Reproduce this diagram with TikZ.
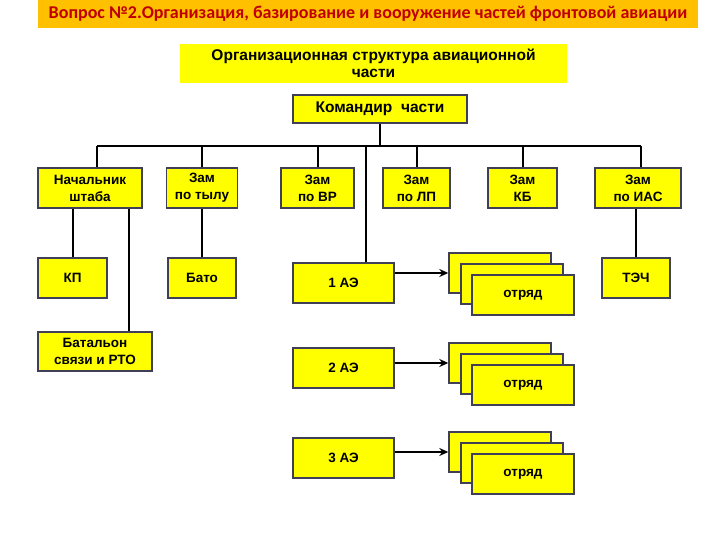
\documentclass[tikz,border=0pt]{standalone}
\usepackage{fontspec}
\usepackage{xcolor}
\usetikzlibrary{arrows.meta,positioning}
\setmainfont{Liberation Sans}
\newfontfamily\titlefont{Carlito}
\definecolor{orgGold}{HTML}{FFC000}
\definecolor{orgRed}{HTML}{C00000}
\definecolor{orgYellow}{HTML}{FFFF00}
\definecolor{orgEdge}{HTML}{3F4058}

\begin{document}
\begin{tikzpicture}[x=1pt,y=-1pt,
    every node/.style={font=\bfseries\fontsize{13.5}{17}\selectfont, align=center, inner sep=0pt},
    unit/.style={draw=orgEdge, line width=1.4pt, fill=orgYellow, minimum height=40pt},
    conn/.style={line width=2pt, black},
    feed/.style={line width=2pt, black, -{Stealth[length=9pt,width=8pt]}}]
    \useasboundingbox (0,0) rectangle (720,540);
    % header
    \node[fill=orgGold, minimum width=660pt, minimum height=28pt, text=orgRed,
          font=\titlefont\bfseries\fontsize{18}{20}\selectfont] (head) at (368,14)
          {Вопрос №2.Организация, базирование и вооружение частей фронтовой авиации};
    \node[fill=orgYellow, minimum width=387pt, minimum height=39pt,
          font=\bfseries\fontsize{15.5}{17}\selectfont] (sub) at (373.5,63.5)
          {Организационная структура авиационной\\части};
    \node[unit, minimum width=174pt, minimum height=28pt,
          font=\bfseries\fontsize{15.5}{17}\selectfont] (cmd) at (380,109) {Командир\ \ части};
    % deputies
    \node[unit, minimum width=104pt] (nsh) at (90,188) {Начальник\\штаба};
    \node[unit, minimum width=71pt] (zt) at (202,188) {Зам\\по тылу};
    \node[unit, minimum width=73pt] (zvr) at (317.5,188) {Зам\\по ВР};
    \node[unit, minimum width=67pt] (zlp) at (416.5,188) {Зам\\по ЛП};
    \node[unit, minimum width=69pt] (zkb) at (522.5,188) {Зам\\КБ};
    \node[unit, minimum width=86pt] (zias) at (638,188) {Зам\\по ИАС};
    % second level
    \node[unit, minimum width=69pt] (kp) at (72.5,278) {КП};
    \node[unit, minimum width=68pt] (bato) at (202,278) {Бато};
    \node[unit, minimum width=68pt] (tech) at (636,278) {ТЭЧ};
    \node[unit, minimum width=114pt, minimum height=39pt] (bat) at (95,351.5) {Батальон\\связи и РТО};
    % squadrons
    \node[unit, minimum width=101pt] (ae1) at (343.5,283) {1 АЭ};
    \node[unit, minimum width=101pt] (ae2) at (343.5,368) {2 АЭ};
    \node[unit, minimum width=101pt] (ae3) at (343.5,458) {3 АЭ};
    % detachments
    \foreach \k/\y in {1/273,2/363,3/452}{
      \node[unit, minimum width=102pt] (otr\k a) at (500,\y) {};
      \node[unit, minimum width=102pt] (otr\k b) at (512,\y+11) {};
      \node[unit, minimum width=102pt] (otr\k c) at (523,\y+22) {отряд};
    }
    % connectors
    \coordinate (bus) at (0,146);
    \draw[conn] (cmd.south) -- (cmd.south |- bus);
    \draw[conn] ([xshift=7pt]nsh.north |- bus) -- ([xshift=3pt]zias.north |- bus);
    \draw[conn] ([xshift=7pt]nsh.north) -- ([xshift=7pt]nsh.north |- bus);
    \foreach \n in {zt,zvr,zlp,zkb}
      \draw[conn] (\n.north) -- (\n.north |- bus);
    \draw[conn] ([xshift=3pt]zias.north) -- ([xshift=3pt]zias.north |- bus);
    \draw[conn] ([xshift=22pt]ae1.north) -- ([xshift=22pt]ae1.north |- bus);
    \draw[conn] (kp.north) -- (kp.north |- nsh.south);
    \draw[conn] ([xshift=34pt]bat.north) -- ([xshift=34pt]bat.north |- nsh.south);
    \draw[conn] (bato.north) -- (bato.north |- zt.south);
    \draw[conn] (tech.north) -- (tech.north |- zias.south);
    \draw[feed] (ae1.east |- otr1a.west) -- (otr1a.west);
    \draw[feed] (ae2.east |- otr2a.west) -- (otr2a.west);
    \draw[feed, line width=2.6pt] (ae3.east |- otr3a.west) -- (otr3a.west);
  \end{tikzpicture}
\end{document}
